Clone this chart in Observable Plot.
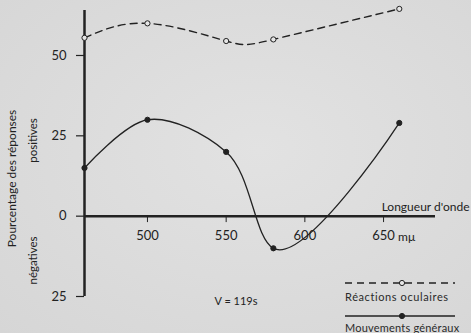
<!DOCTYPE html>
<html>
<head>
<meta charset="utf-8">
<script src="https://cdn.jsdelivr.net/npm/d3@7"></script>
<script src="https://cdn.jsdelivr.net/npm/@observablehq/plot@0.6"></script>
<style>
  html, body { margin: 0; padding: 0; background: #d9d9d9; }
  #wrap { position: relative; width: 471px; height: 333px; overflow: hidden;
          background: radial-gradient(ellipse at 55% 45%, #e2e2e2 0%, #d6d6d6 100%);
          font-family: Lato, "DejaVu Sans", sans-serif; color: #2a2a2a; }
  #legend { position: absolute; left: 345px; top: 278px; width: 126px; font-size: 11px; letter-spacing: 0.6px; }
  #legend .item { height: 33px; }
  #legend svg { display: block; }
  #legend .lab { margin-top: 2px; white-space: nowrap; line-height: 13px; }
  #legend .item + .item .lab { letter-spacing: 0.2px; margin-top: 0px; }
</style>
</head>
<body>
<div id="wrap">
  <div id="chart"></div>
  <div id="legend"></div>
</div>
<script>
// ---- data ----
const wavelengths = [460, 500, 550, 580, 660];
const reactionsOculaires = [55.5, 60, 54.5, 55, 64.5];
const mouvementsGeneraux = [15, 30, 20, -10, 29];
const xTicks = [500, 550, 600, 650];
const yTicks = [50, 25, 0, -25];
const xDomain = [460, 683];
const yDomain = [-25, 64];
const seriesNames = ["Réactions oculaires", "Mouvements généraux"];
const xAxisTitle = "Longueur d'onde";
const xUnit = "mμ";
const yTitle = "Pourcentage des réponses";
const yPos = "positives";
const yNeg = "négatives";
const note = "V = 119s";

const oc = wavelengths.map((w, i) => ({w, v: reactionsOculaires[i]}));
const mg = wavelengths.map((w, i) => ({w, v: mouvementsGeneraux[i]}));

const ink = "#222";
const plot = Plot.plot({
  width: 471,
  height: 333,
  marginLeft: 84,
  marginRight: 36,
  marginTop: 10,
  marginBottom: 37,
  style: {background: "transparent", fontFamily: "Lato, 'DejaVu Sans', sans-serif", color: ink, overflow: "visible"},
  x: {domain: xDomain, axis: null},
  y: {domain: yDomain},
  marks: [
    // axes lines
    Plot.ruleX([xDomain[0]], {y1: yDomain[0], y2: yDomain[1], stroke: ink, strokeWidth: 2.5}),
    Plot.ruleY([0], {x1: xDomain[0], x2: xDomain[1], stroke: ink, strokeWidth: 2.5}),
    // y axis ticks + labels
    Plot.axisY({ticks: yTicks, tickSize: 8, tickPadding: 10, tickFormat: d => Math.abs(d), fontSize: 13, stroke: ink, strokeWidth: 1.2, label: null, style: {letterSpacing: "1.5px"}}),
    // x ticks below the zero line
    Plot.ruleX(xTicks, {x: d => d, y1: 0, y2: -2, stroke: ink, strokeWidth: 1}),
    Plot.text(xTicks, {x: d => d, y: 0, text: d => String(d), dy: 20, fontSize: 13, fill: ink, style: {letterSpacing: "1.5px"}}),
    Plot.text([xUnit], {x: xTicks[xTicks.length - 1], y: 0, text: d => d, dy: 21, dx: 23, fontSize: 12, fill: ink, style: {letterSpacing: "1px"}}),
    Plot.text([xAxisTitle], {frameAnchor: "right", y: 0, text: d => d, dy: -9, dx: 34, textAnchor: "end", fontSize: 12, fill: ink, style: {letterSpacing: "1px"}}),
    // y titles
    Plot.text([yTitle], {frameAnchor: "left", textAnchor: "middle", text: d => d, rotate: -90, dx: -72, dy: 25, fontSize: 12, fill: ink, style: {letterSpacing: "1.8px"}}),
    Plot.text([yPos], {frameAnchor: "left", textAnchor: "middle", text: d => d, rotate: -90, dx: -51, dy: -13, fontSize: 11.5, fill: ink, style: {letterSpacing: "0.7px"}}),
    Plot.text([yNeg], {frameAnchor: "left", textAnchor: "middle", text: d => d, rotate: -90, dx: -51, dy: 107, fontSize: 11.5, fill: ink, style: {letterSpacing: "0.7px"}}),
    // note
    Plot.text([note], {frameAnchor: "bottom", text: d => d, dx: -24, dy: 8, fontSize: 11, fill: ink}),
    // curves
    Plot.line(oc, {x: "w", y: "v", curve: "natural", stroke: ink, strokeWidth: 1.4, strokeDasharray: "7,5"}),
    Plot.line(mg, {x: "w", y: "v", curve: d3.curveCatmullRom.alpha(1), stroke: ink, strokeWidth: 1.3}),
    Plot.dot(oc, {x: "w", y: "v", r: 2.6, fill: "#e6e6e6", stroke: ink, strokeWidth: 1}),
    Plot.dot(mg, {x: "w", y: "v", r: 2.6, fill: ink, stroke: ink, strokeWidth: 1})
  ]
});
document.getElementById("chart").appendChild(plot);

// legend
const leg = document.getElementById("legend");
const styles = [
  {dash: "7,5", fill: "#e6e6e6"},
  {dash: null, fill: ink}
];
seriesNames.forEach((name, i) => {
  const item = document.createElement("div");
  item.className = "item";
  const s = d3.create("svg").attr("width", 112).attr("height", 10);
  s.append("line").attr("x1", 0).attr("x2", 110).attr("y1", 5).attr("y2", 5)
    .attr("stroke", ink).attr("stroke-width", 1.3)
    .attr("stroke-dasharray", styles[i].dash);
  s.append("circle").attr("cx", 57).attr("cy", 5).attr("r", 2.6)
    .attr("fill", styles[i].fill).attr("stroke", ink);
  item.appendChild(s.node());
  const lab = document.createElement("div");
  lab.className = "lab";
  lab.textContent = name;
  item.appendChild(lab);
  leg.appendChild(item);
});
</script>
</body>
</html>
